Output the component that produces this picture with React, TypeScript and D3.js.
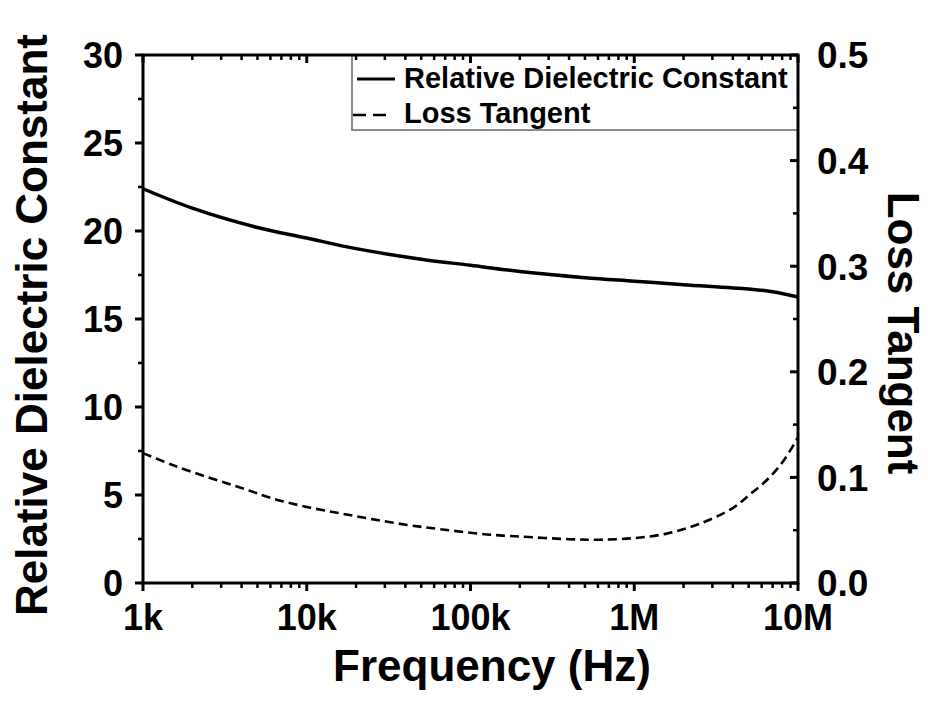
import React from "react";
import * as d3 from "d3";

const freqDielectric = [1e3, 2e3, 5e3, 1e4, 2e4, 5e4, 1e5, 2e5, 5e5, 1e6, 2e6, 5e6, 7e6, 1e7];
const dielectric = [22.4, 21.3, 20.2, 19.6, 19.0, 18.4, 18.05, 17.7, 17.35, 17.15, 16.95, 16.7, 16.55, 16.25];

const freqLoss = [1e3, 1.5e3, 2.5e3, 4e3, 6.2e3, 1e4, 1.6e4, 2.5e4, 4.1e4, 6.5e4, 1.26e5, 2e5, 4e5, 6.2e5, 1e6, 1.6e6, 2.5e6, 4e6, 5.1e6, 6.5e6, 8.1e6, 1e7];
const lossTangent = [0.123, 0.112, 0.100, 0.090, 0.080, 0.072, 0.066, 0.0605, 0.055, 0.051, 0.046, 0.044, 0.0415, 0.041, 0.0425, 0.047, 0.056, 0.071, 0.084, 0.098, 0.115, 0.138];

const xTickValues = [1e3, 1e4, 1e5, 1e6, 1e7];
const xTickLabels = ["1k", "10k", "100k", "1M", "10M"];
const yLeftTicks = [0, 5, 10, 15, 20, 25, 30];
const yRightTicks = [0, 0.1, 0.2, 0.3, 0.4, 0.5];
const rightTickLabels = ["0.0", "0.1", "0.2", "0.3", "0.4", "0.5"];

const legendLabels = ["Relative Dielectric Constant", "Loss Tangent"];

const W = 928;
const H = 702;
const L = 143, R = 798, T = 55, B = 583;
const FONT = "'Liberation Sans', Arial, Helvetica, sans-serif";

export default function App() {
  const x = d3.scaleLog().domain([1e3, 1e7]).range([L, R]);
  const yL = d3.scaleLinear().domain([0, 30]).range([B, T]);
  const yR = d3.scaleLinear().domain([0, 0.5]).range([B, T]);

  const minorX: number[] = [];
  for (let dec = 1e3; dec < 1e7; dec *= 10) {
    for (let k = 2; k <= 9; k++) minorX.push(dec * k);
  }
  const minorYL = d3.range(2.5, 30, 5);
  const minorYR = d3.range(0.05, 0.5, 0.1);

  const lineDi = d3
    .line<number>()
    .x((_, i) => x(freqDielectric[i]))
    .y((d) => yL(d))
    .curve(d3.curveCatmullRom.alpha(0.5));
  const lineLoss = d3
    .line<number>()
    .x((_, i) => x(freqLoss[i]))
    .y((d) => yR(d))
    .curve(d3.curveCatmullRom.alpha(0.5));

  const MAJ = 8, MIN = 5;

  return (
    <svg width={W} height={H} style={{ position: "absolute", left: 0, top: 0, background: "#fff" }} fontFamily={FONT}>
      <rect x={0} y={0} width={W} height={H} fill="#fff" />
      {/* curves */}
      <path d={lineDi(dielectric) || ""} fill="none" stroke="#000" strokeWidth={3.5} />
      <path d={lineLoss(lossTangent) || ""} fill="none" stroke="#000" strokeWidth={2.6} strokeDasharray="9,5" />

      {/* legend */}
      <rect x={352} y={T} width={R - 352} height={130 - T} fill="#fff" stroke="#666" strokeWidth={1.5} />
      <line x1={357} x2={395} y1={79} y2={79} stroke="#000" strokeWidth={3} />
      <line x1={353} x2={392} y1={115} y2={115} stroke="#000" strokeWidth={2.6} strokeDasharray="13,7" />
      <text x={404} y={88} fontSize={29} fontWeight="bold">{legendLabels[0]}</text>
      <text x={404} y={123} fontSize={29} fontWeight="bold">{legendLabels[1]}</text>

      {/* frame */}
      <rect x={L} y={T} width={R - L} height={B - T} fill="none" stroke="#000" strokeWidth={3} />

      {/* bottom & top ticks */}
      {xTickValues.map((v) => (
        <g key={"xm" + v}>
          <line x1={x(v)} x2={x(v)} y1={B} y2={B + MAJ} stroke="#000" strokeWidth={3} />
          <line x1={x(v)} x2={x(v)} y1={T} y2={T + MAJ} stroke="#000" strokeWidth={3} />
        </g>
      ))}
      {minorX.map((v) => (
        <g key={"xn" + v}>
          <line x1={x(v)} x2={x(v)} y1={B} y2={B + MIN} stroke="#000" strokeWidth={2.5} />
          <line x1={x(v)} x2={x(v)} y1={T} y2={T + MIN} stroke="#000" strokeWidth={2.5} />
        </g>
      ))}
      {xTickValues.map((v, i) => (
        <text key={"xl" + v} x={x(v)} y={630} fontSize={36} fontWeight="bold" textAnchor="middle">
          {xTickLabels[i]}
        </text>
      ))}

      {/* left ticks */}
      {yLeftTicks.map((v) => (
        <g key={"yl" + v}>
          <line x1={L - MAJ} x2={L} y1={yL(v)} y2={yL(v)} stroke="#000" strokeWidth={3} />
          <text x={123} y={yL(v)} dy="0.36em" fontSize={36} fontWeight="bold" textAnchor="end">
            {v}
          </text>
        </g>
      ))}
      {minorYL.map((v) => (
        <line key={"yln" + v} x1={L - MIN} x2={L} y1={yL(v)} y2={yL(v)} stroke="#000" strokeWidth={2.5} />
      ))}

      {/* right ticks */}
      {yRightTicks.map((v, i) => (
        <g key={"yr" + v}>
          <line x1={R - MAJ} x2={R} y1={yR(v)} y2={yR(v)} stroke="#000" strokeWidth={3} />
          <text x={817} y={yR(v)} dy="0.36em" fontSize={37} fontWeight="bold" textAnchor="start">
            {rightTickLabels[i]}
          </text>
        </g>
      ))}
      {minorYR.map((v) => (
        <line key={"yrn" + v} x1={R - MIN} x2={R} y1={yR(v)} y2={yR(v)} stroke="#000" strokeWidth={2.5} />
      ))}

      {/* axis titles */}
      <text x={492} y={681} fontSize={44} fontWeight="bold" textAnchor="middle">
        Frequency (Hz)
      </text>
      <text transform="translate(47,325) rotate(-90)" fontSize={44} fontWeight="bold" textAnchor="middle">
        Relative Dielectric Constant
      </text>
      <text transform="translate(888,333) rotate(90)" fontSize={44} fontWeight="bold" textAnchor="middle">
        Loss Tangent
      </text>
    </svg>
  );
}
